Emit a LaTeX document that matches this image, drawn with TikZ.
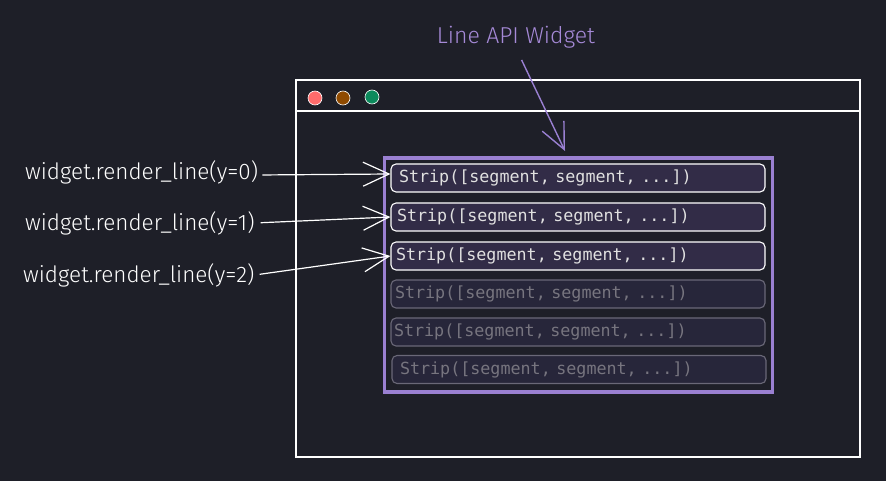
\documentclass[tikz,border=0pt]{standalone}
\usepackage{fontspec}
\setmonofont{DejaVu Sans Mono}
\newfontfamily\handfont{Fira Sans Light}
\usetikzlibrary{arrows.meta}
\definecolor{bgc}{HTML}{1E1F28}
\definecolor{stripfill}{HTML}{322C47}
\definecolor{fadefill}{HTML}{27263A}
\definecolor{fadeline}{HTML}{6A6878}
\definecolor{fadetext}{HTML}{77757F}
\definecolor{purp}{HTML}{9A80D2}
\definecolor{purptext}{HTML}{A68AD8}
\definecolor{dotred}{HTML}{FF6B6B}
\definecolor{dotbrown}{HTML}{8F4A00}
\definecolor{dotgreen}{HTML}{0C8A5C}
\tikzset{
  strip/.style={draw=white, line width=1.1pt, fill=stripfill, rounded corners=5pt,
    minimum height=28pt, text width=362pt, inner xsep=6pt, inner ysep=0pt, align=left,
    text=white!88!black, font=\ttfamily\fontsize{16.7}{19}\selectfont},
  fadestrip/.style={strip, draw=fadeline, fill=fadefill, text=fadetext},
  hand/.style={text=white, font=\handfont\fontsize{22.5}{25}\selectfont, inner sep=0pt},
  arr/.style={white, line width=1.2pt, -{Straight Barb[length=26pt,width=24pt,line width=1.2pt]}},
  parr/.style={purp, line width=1.4pt, -{Straight Barb[length=26pt,width=24pt,line width=1.4pt]}},
  dot/.style={circle, minimum size=14pt, inner sep=0pt, draw=white, line width=0.6pt},
}
\begin{document}
\begin{tikzpicture}[x=1pt,y=-1pt]
\useasboundingbox (0,0) rectangle (886,481);
\fill[bgc] (0,0) rectangle (886,481);
% window
\node[draw=white, line width=2pt, minimum width=564pt, minimum height=377pt, inner sep=0pt] (win) at (578,268.5) {};
\draw[white, line width=2pt] (296,111) -- (860,111);
\node[dot, fill=dotred] (d1) at (315,98) {};
\node[dot, fill=dotbrown] (d2) at (343,98) {};
\node[dot, fill=dotgreen] (d3) at (372,97) {};
% purple widget box
\node[draw=purp, line width=3.5pt, minimum width=388pt, minimum height=234pt, inner sep=0pt] (pbox) at (578.5,275) {};
% strips
\node[strip, text width=358pt, inner xsep=8pt] (s1) at (578,178) {Strip([segment, segment, ...])};
\node[strip] (s2) at (578,217) {Strip([segment, segment, ...])};
\node[strip, inner xsep=5pt, text width=364pt] (s3) at (578,256) {Strip([segment, segment, ...])};
\node[fadestrip, inner xsep=4pt, text width=366pt] (s4) at (578,294) {Strip([segment, segment, ...])};
\node[fadestrip, inner xsep=3pt, text width=368pt] (s5) at (578,332) {Strip([segment, segment, ...])};
\node[fadestrip, inner xsep=8pt, text width=358pt] (s6) at (579,369.5) {Strip([segment, segment, ...])};
% hand labels
\node[hand, anchor=west] (l1) at (25,172) {widget.render\_line(y=0)};
\node[hand, anchor=west] (l2) at (25,223) {widget.render\_line(y=1)};
\node[hand, anchor=west] (l3) at (23,275) {widget.render\_line(y=2)};
\node[text=purptext, font=\handfont\fontsize{23}{26}\selectfont, inner sep=0pt] (t) at (516,37) {Line API Widget};
\coordinate (ptip) at (565,151);
% arrows
\draw[arr, shorten <=4pt] ([yshift=-3pt]l1.east) -- ([yshift=4pt]s1.west);
\draw[arr, shorten <=6pt] (l2.east) -- (s2.west);
\draw[arr, shorten <=5pt] (l3.east) -- (s3.west);
\draw[parr, shorten <=13pt] (t.south) -- (ptip);
\end{tikzpicture}
\end{document}
